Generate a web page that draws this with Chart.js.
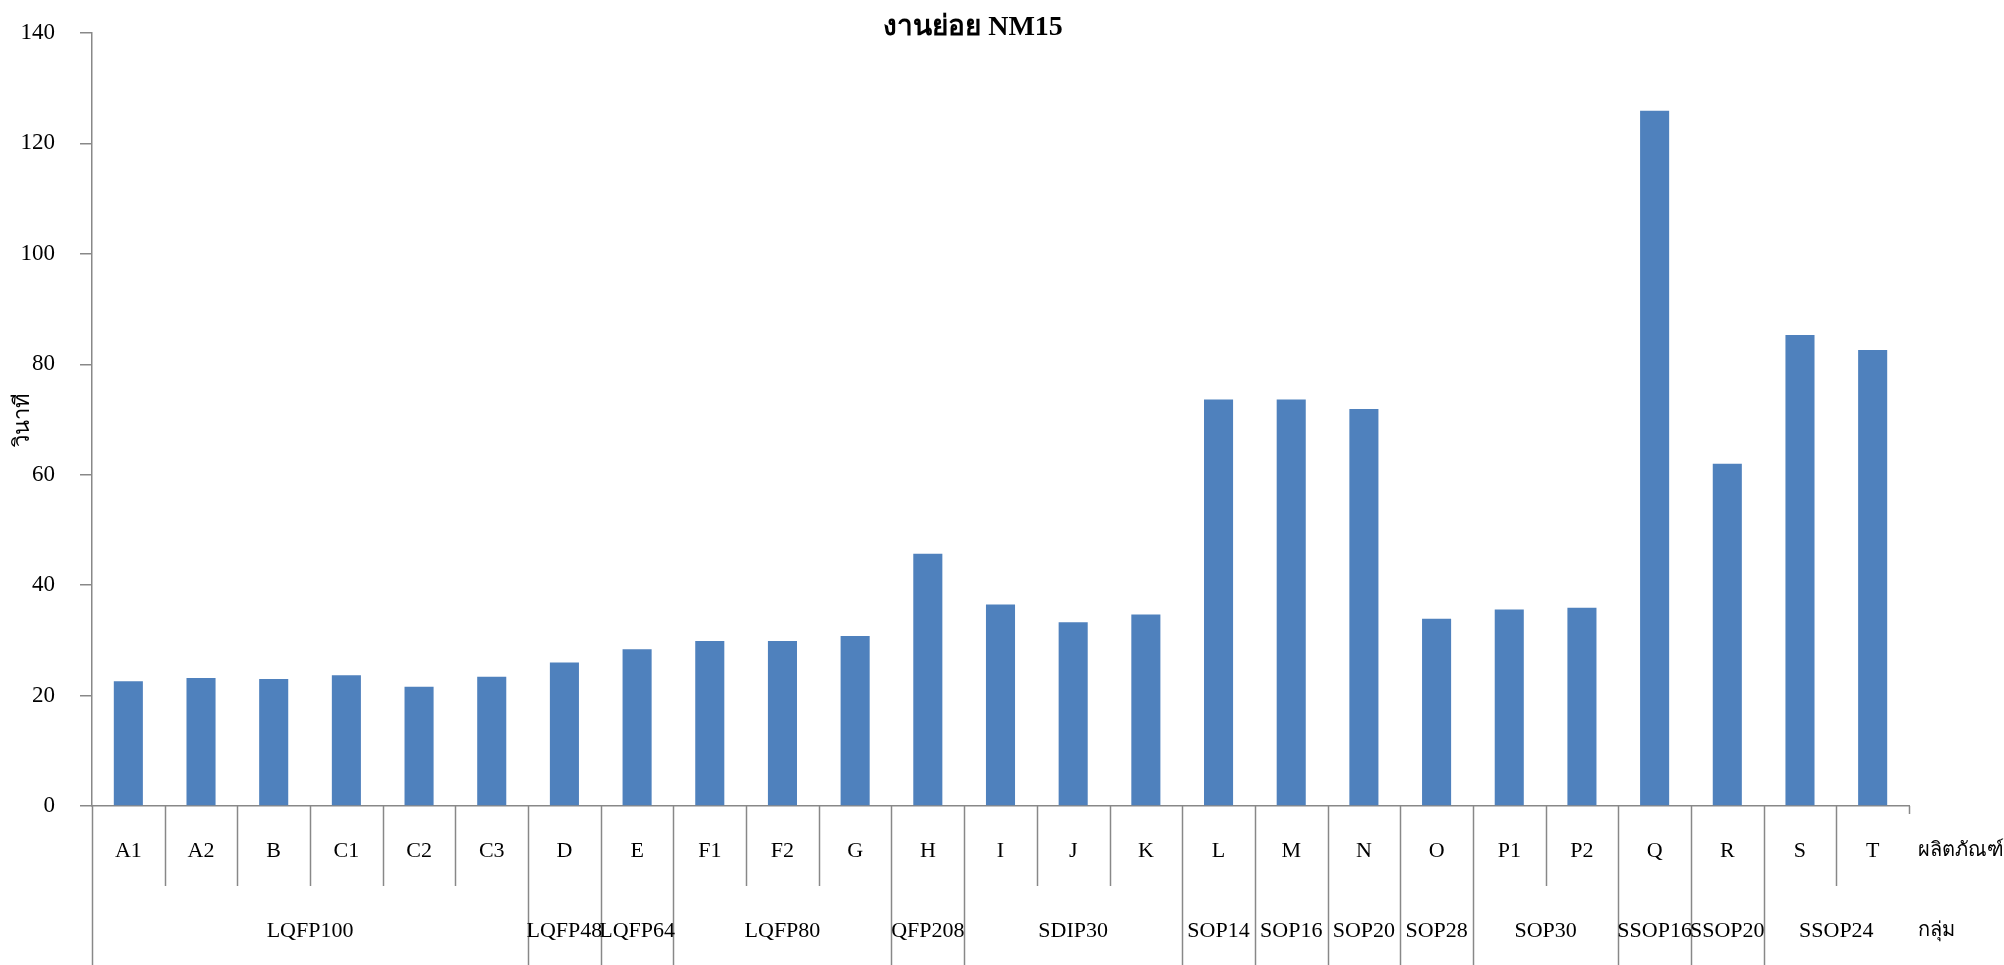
<!DOCTYPE html>
<html>
<head>
<meta charset="utf-8">
<title>งานย่อย NM15</title>
<script src="https://cdn.jsdelivr.net/npm/chart.js@4.4.1/dist/chart.umd.min.js"></script>
<style>
  html, body { margin: 0; padding: 0; background: #ffffff; }
  #wrap { width: 2004px; height: 965px; position: relative; }
</style>
</head>
<body>
<div id="wrap"><canvas id="chart"></canvas></div>
<script>
// Products (first row of the category axis) and their cycle times in seconds
const categories = ['A1','A2','B','C1','C2','C3','D','E','F1','F2','G','H','I','J','K','L','M','N','O','P1','P2','Q','R','S','T'];
const values = [22.6, 23.2, 23.0, 23.7, 21.6, 23.4, 26.0, 28.4, 29.9, 29.9, 30.8, 45.7, 36.5, 33.3, 34.7, 73.6, 73.6, 71.9, 33.9, 35.6, 35.9, 125.9, 62.0, 85.3, 82.6];

// Package groups (second row) and how many products each one spans
const groupNames = ['LQFP100','LQFP48','LQFP64','LQFP80','QFP208','SDIP30','SOP14','SOP16','SOP20','SOP28','SOP30','SSOP16','SSOP20','SSOP24'];
const groupSizes = [6, 1, 1, 3, 1, 3, 1, 1, 1, 1, 2, 1, 1, 2];

// Texts
const chartTitle = 'งานย่อย NM15';
const yTitle = 'วินาที';
const rowTitleProduct = 'ผลิตภัณฑ์';
const rowTitleGroup = 'กลุ่ม';

const SERIF = "'Liberation Serif', 'Times New Roman', serif";
const AXIS_GRAY = '#888888';
const BAR_BLUE = '#4F81BD';

// Draws the chart title and the two-level category axis (products + groups)
const multiLevelAxis = {
  id: 'multiLevelAxis',
  afterDraw(chart) {
    const ctx = chart.ctx;
    const x = chart.scales.x;
    const area = chart.chartArea;
    const step = x.getPixelForValue(1) - x.getPixelForValue(0);
    const edge = i => x.getPixelForValue(i) - step / 2;
    const axisY = area.bottom;
    const innerBottom = axisY + 80;
    const outerBottom = chart.height;
    const row1Y = axisY + 45;
    const row2Y = axisY + 125;

    ctx.save();
    ctx.strokeStyle = AXIS_GRAY;
    ctx.lineWidth = 1.5;

    // group boundaries
    const groupStart = new Set();
    let acc = 0;
    groupSizes.forEach(n => { groupStart.add(acc); acc += n; });

    for (let i = 0; i < categories.length; i++) {
      const px = Math.round(edge(i)) + 0.5;
      ctx.beginPath();
      ctx.moveTo(px, axisY);
      ctx.lineTo(px, groupStart.has(i) ? outerBottom : innerBottom);
      ctx.stroke();
    }
    // short end tick at the right of the axis
    const endX = Math.round(edge(categories.length)) + 0.5;
    ctx.beginPath();
    ctx.moveTo(endX, axisY);
    ctx.lineTo(endX, axisY + 8);
    ctx.stroke();

    // product labels
    ctx.fillStyle = '#000000';
    ctx.font = '22px ' + SERIF;
    ctx.textAlign = 'center';
    ctx.textBaseline = 'middle';
    categories.forEach((c, i) => {
      ctx.fillText(c, x.getPixelForValue(i), row1Y);
    });

    // group labels
    acc = 0;
    groupNames.forEach((g, gi) => {
      const n = groupSizes[gi];
      const cx = (edge(acc) + edge(acc + n)) / 2;
      ctx.fillText(g, cx, row2Y);
      acc += n;
    });

    // row titles at the right end
    ctx.textAlign = 'left';
    ctx.font = '20px ' + SERIF;
    ctx.fillText(rowTitleProduct, endX + 8, row1Y);
    ctx.fillText(rowTitleGroup, endX + 8, row2Y);

    // chart title
    ctx.font = 'bold 28px ' + SERIF;
    ctx.textAlign = 'center';
    ctx.fillText(chartTitle, 973, 28);
    ctx.restore();
  }
};

new Chart(document.getElementById('chart'), {
  type: 'bar',
  data: {
    labels: categories,
    datasets: [{
      data: values,
      backgroundColor: BAR_BLUE,
      borderWidth: 0,
      categoryPercentage: 1.0,
      barPercentage: 0.4
    }]
  },
  options: {
    responsive: true,
    maintainAspectRatio: false,
    animation: false,
    events: [],
    layout: { padding: { top: 33, right: 95, bottom: 0, left: 0 } },
    plugins: {
      legend: { display: false },
      title: { display: false },
      tooltip: { enabled: false }
    },
    scales: {
      x: {
        grid: { display: false },
        border: { display: true, color: AXIS_GRAY, width: 1.5 },
        ticks: { display: false },
        afterFit(scale) {
          scale.height = 159;
          scale.paddingLeft = 0;
          scale.paddingRight = 0;
        }
      },
      y: {
        min: 0,
        max: 140,
        ticks: {
          stepSize: 20,
          color: '#000000',
          padding: 25,
          font: { family: SERIF, size: 23 }
        },
        grid: {
          drawOnChartArea: false,
          drawTicks: true,
          tickLength: 12,
          color: AXIS_GRAY,
          lineWidth: 1.5
        },
        border: { display: true, color: AXIS_GRAY, width: 1.5 },
        title: {
          display: true,
          text: yTitle,
          color: '#000000',
          font: { family: SERIF, size: 22 },
          padding: { top: 10, bottom: 0 }
        },
        afterFit(scale) {
          scale.width = 92;
          scale.paddingTop = 0;
          scale.paddingBottom = 0;
        }
      }
    }
  },
  plugins: [multiLevelAxis]
});
</script>
</body>
</html>
